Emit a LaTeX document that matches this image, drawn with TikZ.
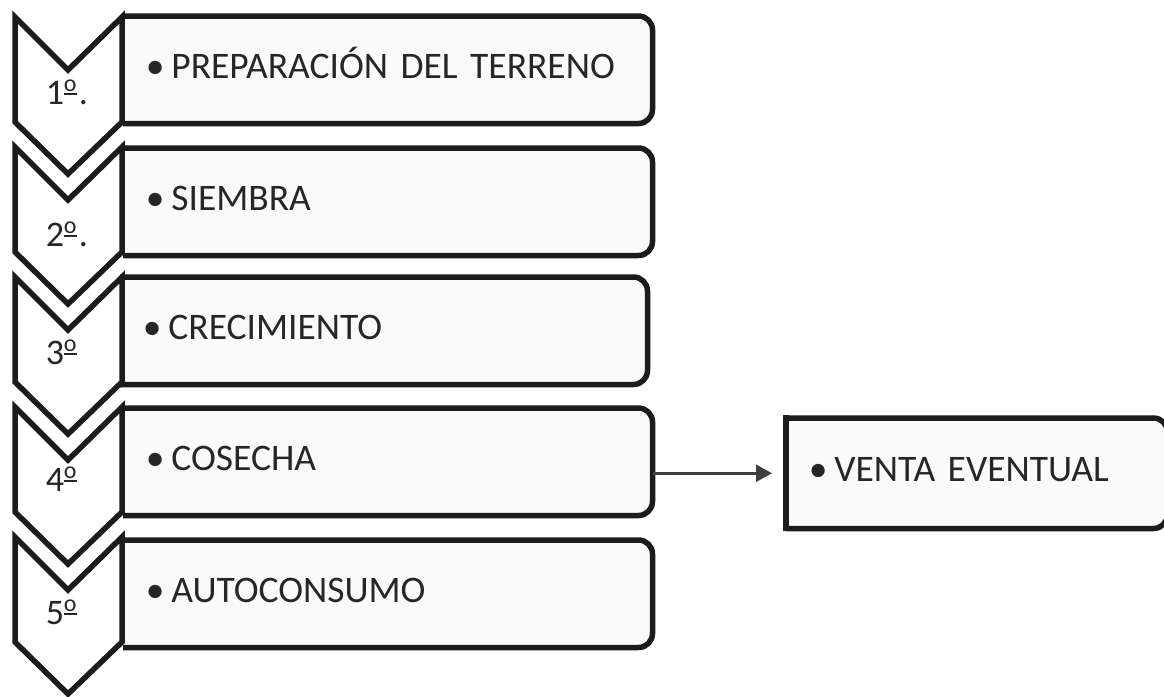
\documentclass[tikz,border=0pt]{standalone}
\usepackage{fontspec}
\setmainfont{Carlito}
\usetikzlibrary{arrows.meta,backgrounds}
\definecolor{ink}{HTML}{1C1C1C}
\definecolor{boxfill}{HTML}{FAFAFA}
\definecolor{txt}{HTML}{262626}
\newcommand{\ordo}{\makebox[15pt][l]{\rule[9pt]{13pt}{2.2pt}\hspace{-13pt}\raisebox{13pt}{\fontsize{24}{24}\selectfont o}}}
\newcommand{\bul}{•\hspace{7pt}}
\begin{document}
\begin{tikzpicture}[x=1pt,y=-1pt,line width=5.5pt,font=\fontsize{37.5}{44}\selectfont,
	box/.style={anchor=north west,minimum height=102pt,inner xsep=20pt,inner ysep=0pt,text width=484pt,align=left,text height=17pt,text depth=0pt,text=txt},
	num/.style={anchor=base west,inner sep=0pt,text=txt,font=\fontsize{36}{42}\selectfont},
	boxline/.style={draw=ink,fill=boxfill,line width=5.5pt,rounded corners=14pt},
	edge/.style={draw=ink,line width=5.5pt,line cap=rect},
	chev/.style={draw=ink,fill=white,line width=5.5pt,line join=miter},
	arr/.style={draw=black!75,line width=2.5pt,-{Triangle[length=16pt,width=17pt]},shorten >=14pt}]
	\useasboundingbox (0,0) rectangle (1164,696);
	\node[box] (b1) at (123,16) {\bul PREPARACIÓN DEL TERRENO};
	\node[box] (b2) at (123,148) {\bul SIEMBRA};
	\node[box,text width=482pt] (b3) at (120,277) {\bul CRECIMIENTO};
	\node[box] (b4) at (123,408) {\bul COSECHA};
	\node[box] (b5) at (123,540) {\bul AUTOCONSUMO};
	\node[box,minimum height=105pt,text width=336pt] (v) at (786,418) {\bul VENTA EVENTUAL};
	\begin{scope}[on background layer]
		\filldraw[boxline] (b1.north west) -- (b1.north east) -- (b1.south east) -- (b1.south west);
		\filldraw[boxline] (b2.north west) -- (b2.north east) -- (b2.south east) -- (b2.south west);
		\filldraw[boxline] (b3.north west) -- (b3.north east) -- (b3.south east) -- (b3.south west);
		\filldraw[boxline] (b4.north west) -- (b4.north east) -- (b4.south east) -- (b4.south west);
		\filldraw[boxline] (b5.north west) -- (b5.north east) -- (b5.south east) -- (b5.south west);
		\filldraw[boxline] (v.north west) -- (v.north east) -- (v.south east) -- (v.south west);
		\draw[edge] (v.north west) -- (v.south west);
	\end{scope}
	\draw[chev] (15,17) -- (68,70) -- (122,17) -- (122,122) -- (68,174) -- (15,122) -- cycle;
	\draw[chev] (15,147) -- (68,200) -- (122,147) -- (122,252) -- (68,304) -- (15,252) -- cycle;
	\draw[chev] (15,277) -- (68,330) -- (122,277) -- (122,382) -- (68,434) -- (15,382) -- cycle;
	\draw[chev] (15,407) -- (68,460) -- (122,407) -- (122,512) -- (68,564) -- (15,512) -- cycle;
	\draw[chev] (15,537) -- (68,590) -- (122,537) -- (122,642) -- (68,694) -- (15,642) -- cycle;
	\node[num] (n1) at (43,104) {1\ordo.};
	\node[num] (n2) at (43,246) {2\ordo.};
	\node[num] (n3) at (43,364) {3\ordo};
	\node[num] (n4) at (43,491) {4\ordo};
	\node[num] (n5) at (43,624) {5\ordo};
	\draw[arr] (v.west -| b4.east) -- (v.west);
\end{tikzpicture}
\end{document}
